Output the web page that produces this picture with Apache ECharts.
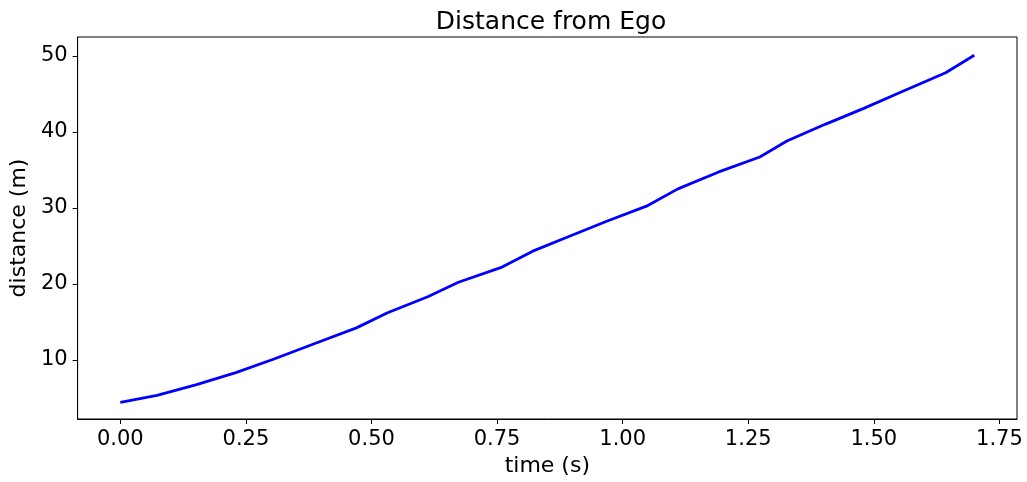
<!DOCTYPE html>
<html>
<head>
<meta charset="utf-8">
<script src="https://cdn.jsdelivr.net/npm/echarts@6/dist/echarts.min.js"></script>
<style>
  html, body { margin: 0; padding: 0; background: #fff; }
  #chart { width: 1027px; height: 482px; }
</style>
</head>
<body>
<div id="chart"></div>
<script>
// time stamps (s) and distance from ego (m)
const times = [0, 0.073, 0.15, 0.23, 0.306, 0.386, 0.47, 0.532, 0.612, 0.673, 0.76, 0.821,
  0.888, 0.967, 1.05, 1.11, 1.19, 1.273, 1.327, 1.403, 1.48, 1.559, 1.643, 1.70]
const distances = [4.4, 5.3, 6.7, 8.3, 10.1, 12.1, 14.2, 16.2, 18.3, 20.2, 22.2, 24.3,
  26.1, 28.2, 30.3, 32.5, 34.7, 36.7, 38.8, 41.0, 43.1, 45.4, 47.8, 50.1]

const xTicks = [0, 0.25, 0.5, 0.75, 1.0, 1.25, 1.5, 1.75]
const yTicks = [10, 20, 30, 40, 50]

const font = 'DejaVu Sans'
const chart = echarts.init(document.getElementById('chart'))

chart.setOption({
  animation: false,
  title: {
    text: 'Distance from Ego',
    left: 546,
    textAlign: 'center',
    top: 5,
    textStyle: { fontFamily: font, fontSize: 25, fontWeight: 'normal', color: '#000' }
  },
  grid: {
    left: 77, right: 10, top: 37, bottom: 63,
    show: true, borderColor: '#000', borderWidth: 1
  },
  xAxis: {
    type: 'value',
    min: -0.085,
    max: 1.785,
    name: 'time (s)',
    nameLocation: 'middle',
    nameGap: 34,
    nameTextStyle: { fontFamily: font, fontSize: 22, color: '#000' },
    axisLine: { show: true, onZero: false, lineStyle: { color: '#000', width: 1 } },
    axisTick: { show: true, inside: false, length: 5, customValues: xTicks, lineStyle: { color: '#000' } },
    axisLabel: {
      customValues: xTicks,
      margin: 10,
      fontFamily: font, fontSize: 21, color: '#000',
      formatter: v => v.toFixed(2)
    },
    splitLine: { show: false }
  },
  yAxis: {
    type: 'value',
    min: 2.2,
    max: 52.5,
    name: 'distance (m)',
    nameLocation: 'middle',
    nameGap: 45,
    nameTextStyle: { fontFamily: font, fontSize: 22, color: '#000' },
    axisLine: { show: true, onZero: false, lineStyle: { color: '#000', width: 1 } },
    axisTick: { show: true, inside: false, length: 5, customValues: yTicks, lineStyle: { color: '#000' } },
    axisLabel: {
      customValues: yTicks,
      margin: 10,
      fontFamily: font, fontSize: 21, color: '#000'
    },
    splitLine: { show: false }
  },
  series: [
    {
      type: 'line',
      data: times.map((t, i) => [t, distances[i]]),
      showSymbol: false,
      lineStyle: { color: '#0000ff', width: 2.8 },
      itemStyle: { color: '#0000ff' }
    }
  ]
})
</script>
</body>
</html>
